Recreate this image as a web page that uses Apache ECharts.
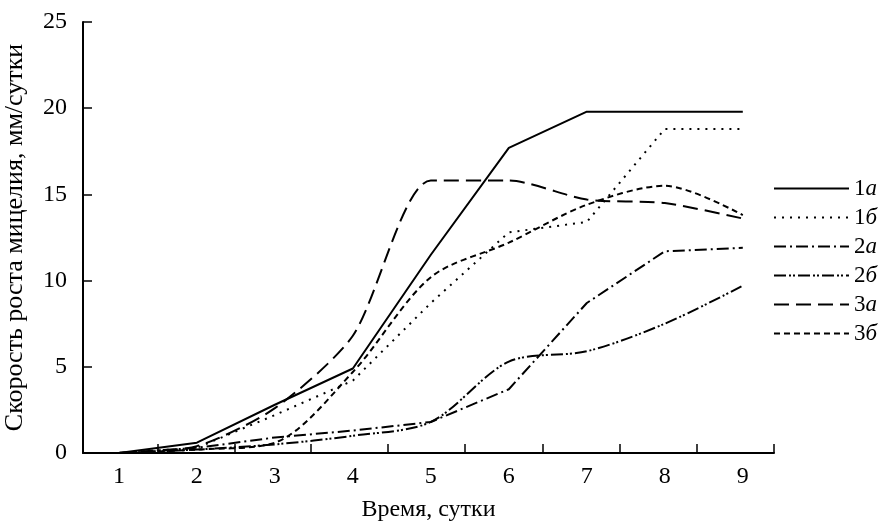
<!DOCTYPE html>
<html>
<head>
<meta charset="utf-8">
<script src="https://cdn.jsdelivr.net/npm/echarts@6/dist/echarts.min.js"></script>
<style>
    html, body {margin: 0; padding: 0; background: #fff;}
    #graph {width: 890px; height: 523px;}
</style>
</head>
<body>
<div id="graph"></div>
<script>
    // сутки
    var days = [1, 2, 3, 4, 5, 6, 7, 8, 9];
    // скорость роста, мм/сутки
    var s1a = [0, 0.6, 2.8, 4.9, 11.5, 17.7, 19.8, 19.8, 19.8];
    var s1b = [0, 0.3, 2.2, 4.2, 8.7, 12.8, 13.4, 18.8, 18.8];
    var s2a = [0, 0.3, 0.9, 1.3, 1.8, 3.7, 8.7, 11.7, 11.9];
    var s2b = [0, 0.2, 0.5, 1.0, 1.8, 5.3, 5.9, 7.5, 9.7];
    var s3a = [0, 0.4, 2.6, 6.8, 15.8, 15.8, 14.7, 14.5, 13.6];
    var s3b = [0, 0.2, 0.6, 4.7, 10.2, 12.2, 14.4, 15.5, 13.8];
    var yTicks = [0, 5, 10, 15, 20, 25];
    // деления оси X стоят между подписями
    var xTicks = [1.5, 2.48, 3.46, 4.45, 5.44, 6.43, 7.42, 8.41, 9.4];

    var font = 'Liberation Serif';

    function pairs(arr) {
        var out = [];
        for (var i = 0; i < days.length; i++) {
            out.push([days[i], arr[i]]);
        }
        return out;
    }

    function line(name, arr, type, smooth) {
        return {
            name: name,
            type: 'line',
            symbol: 'none',
            smooth: smooth || false,
            color: '#000',
            lineStyle: {color: '#000', width: 2, type: type},
            data: pairs(arr)
        };
    }

    var myChart = echarts.init(document.getElementById('graph'));
    myChart.setOption({
        animation: false,
        backgroundColor: '#fff',
        textStyle: {fontFamily: font, color: '#000'},
        grid: {left: 83, right: 116, top: 22, bottom: 70, containLabel: false, outerBoundsMode: 'none'},
        legend: {
            orient: 'vertical',
            left: 768,
            top: 172,
            itemWidth: 75,
            itemHeight: 14,
            itemGap: 6,
            itemStyle: {opacity: 0},
            textStyle: {
                fontFamily: font,
                fontSize: 23,
                color: '#000',
                rich: {
                    n: {fontFamily: font, fontSize: 23, color: '#000'},
                    i: {fontFamily: font, fontSize: 23, color: '#000', fontStyle: 'italic'}
                }
            },
            formatter: function (name) {
                return '{n|' + name.charAt(0) + '}{i|' + name.slice(1) + '}';
            }
        },
        xAxis: {
            type: 'value',
            min: 0.54,
            max: 9.4,
            name: 'Время, сутки',
            nameLocation: 'middle',
            nameGap: 45,
            nameTextStyle: {fontFamily: font, fontSize: 24, color: '#000'},
            axisLine: {lineStyle: {color: '#000', width: 2}},
            axisTick: {inside: true, length: 9, customValues: xTicks, lineStyle: {color: '#000', width: 1.5}},
            axisLabel: {customValues: days, fontFamily: font, fontSize: 24, color: '#000', margin: 12},
            splitLine: {show: false}
        },
        yAxis: {
            type: 'value',
            min: 0,
            max: 25,
            interval: 5,
            name: 'Скорость роста мицелия, мм/сутки',
            nameLocation: 'middle',
            nameGap: 55,
            nameTextStyle: {fontFamily: font, fontSize: 26, color: '#000'},
            axisLine: {show: true, lineStyle: {color: '#000', width: 2}},
            axisTick: {show: true, inside: true, length: 9, customValues: yTicks, lineStyle: {color: '#000', width: 1.5}},
            axisLabel: {customValues: yTicks, fontFamily: font, fontSize: 24, color: '#000', margin: 16},
            splitLine: {show: false}
        },
        series: [
            line('1а', s1a, 'solid'),
            line('1б', s1b, [2, 6]),
            line('2а', s2a, [12, 4, 2, 4]),
            line('2б', s2b, [12, 3, 2, 2, 2, 3], 0.3),
            line('3а', s3a, [15, 7], 0.25),
            line('3б', s3b, [6, 4], 0.3)
        ]
    });
</script>
</body>
</html>
